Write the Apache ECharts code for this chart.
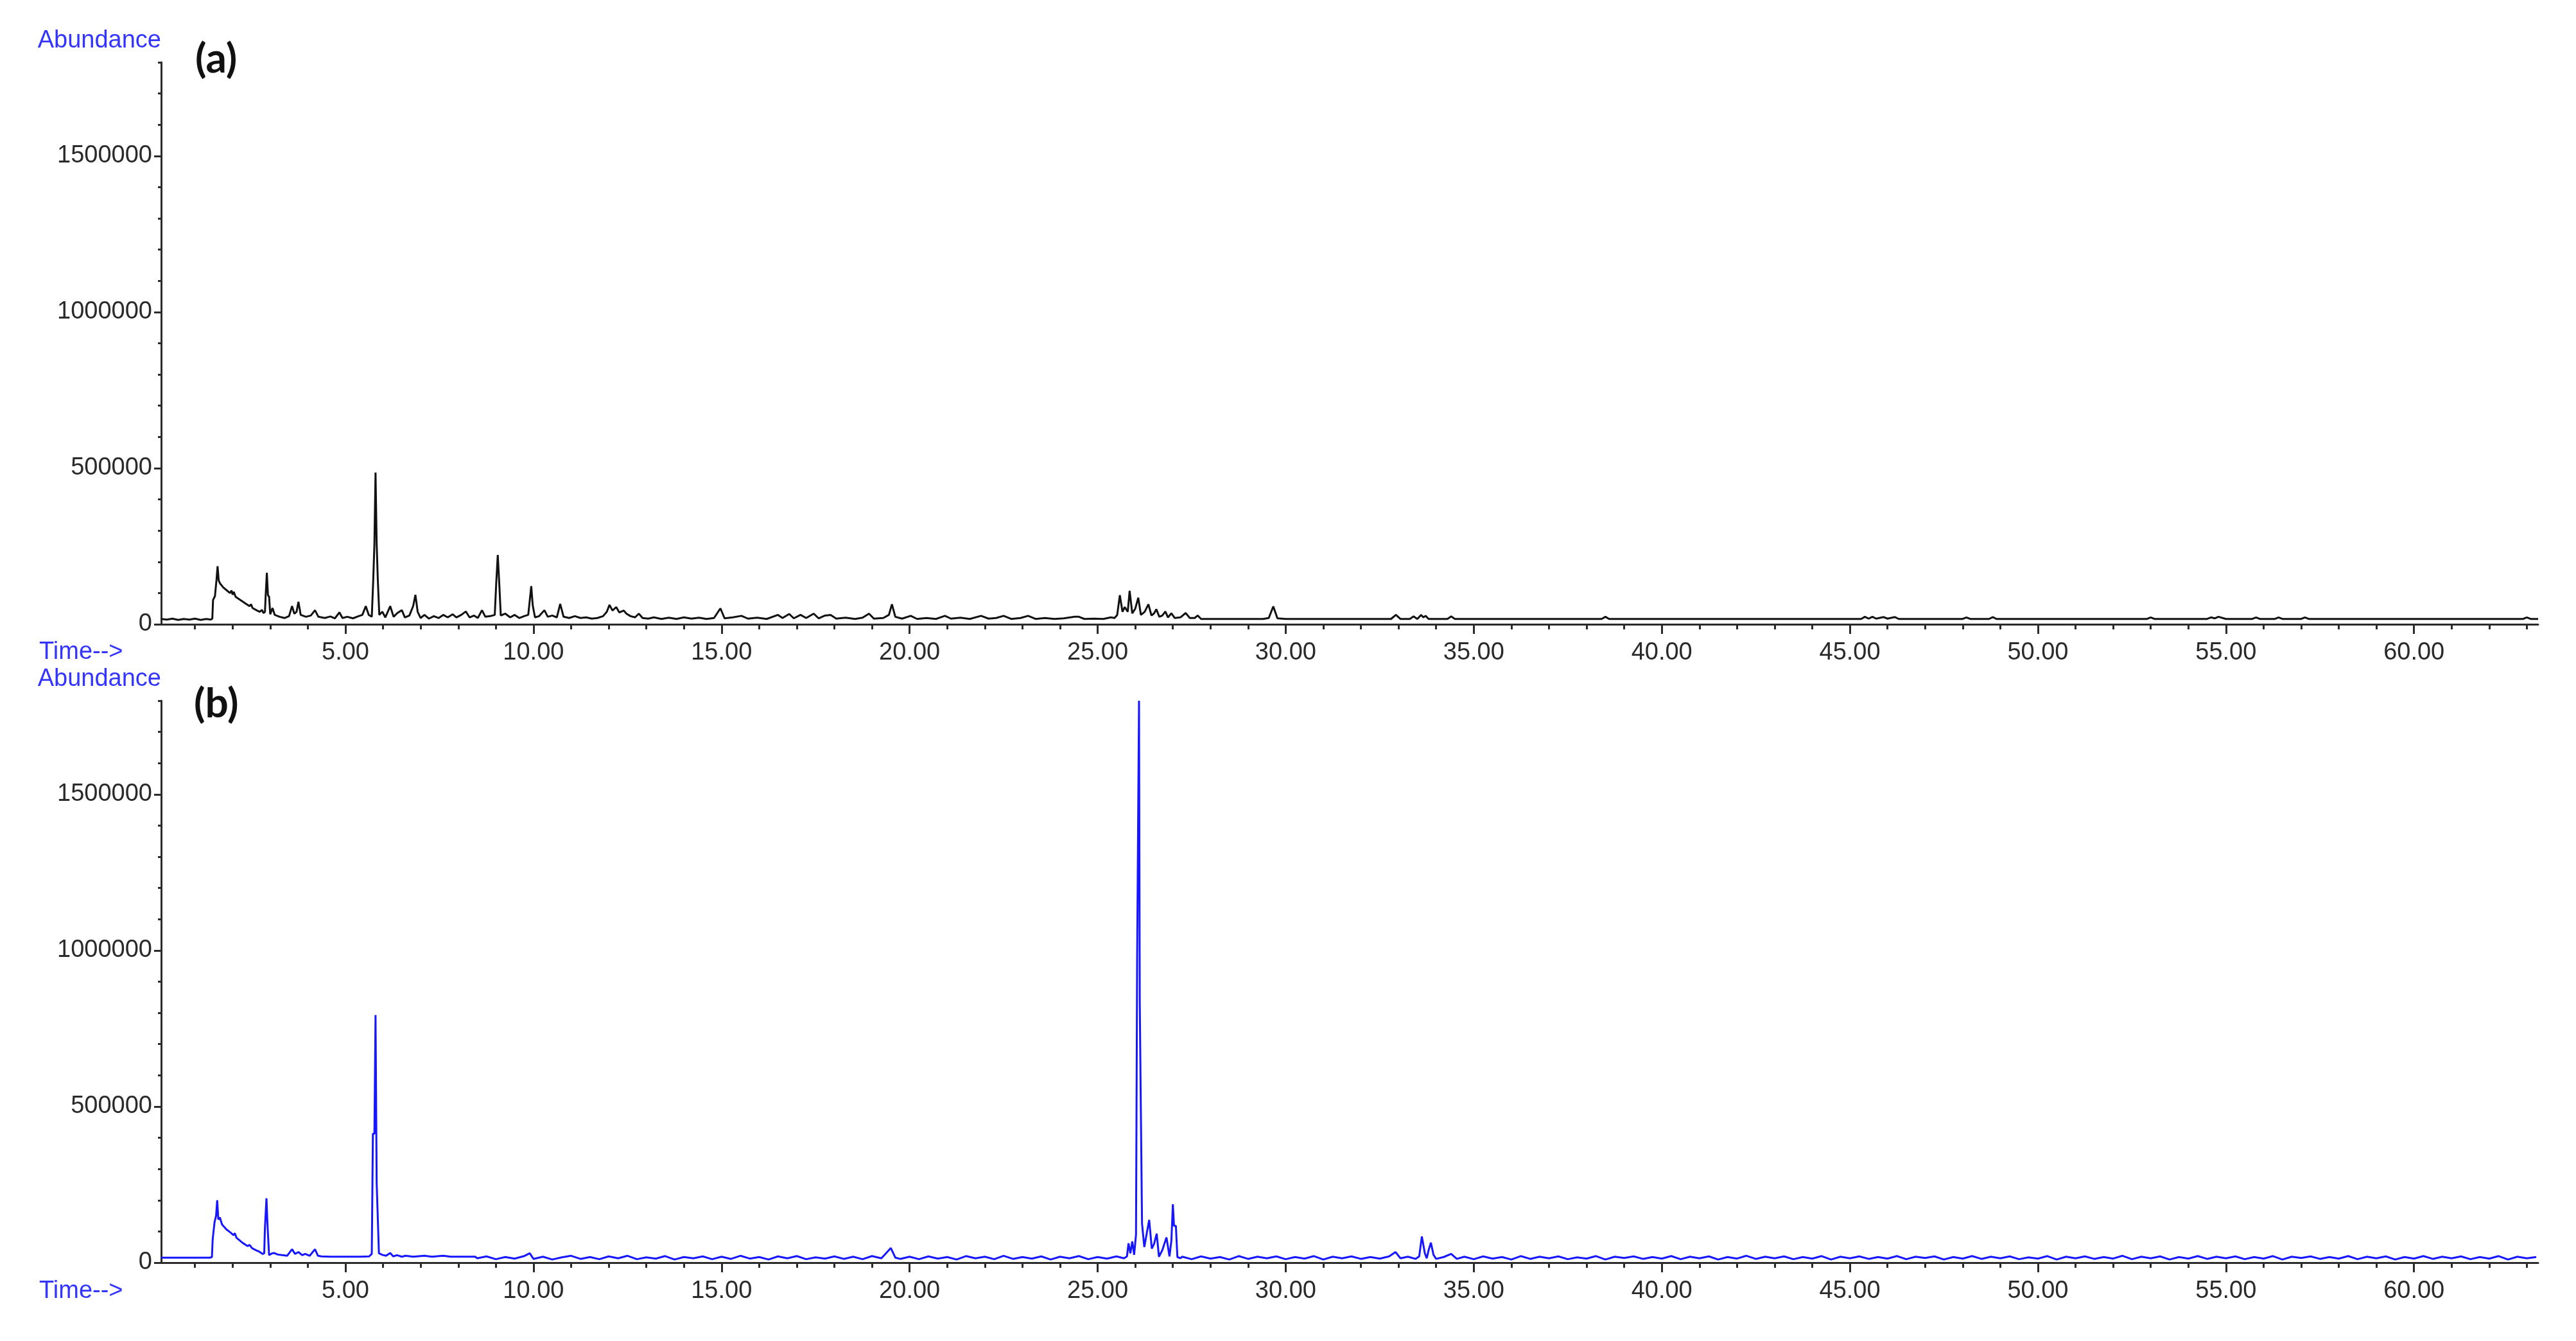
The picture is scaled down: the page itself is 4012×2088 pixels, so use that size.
<!DOCTYPE html>
<html>
<head>
<meta charset="utf-8">
<script src="https://cdn.jsdelivr.net/npm/echarts@6/dist/echarts.min.js"></script>
<style>
  html, body { margin: 0; padding: 0; background: #ffffff; }
  #chart { width: 4012px; height: 2088px; }
</style>
</head>
<body>
<div id="chart"></div>
<script>
// axis ticks / labels
const xLabelValues = [5, 10, 15, 20, 25, 30, 35, 40, 45, 50, 55, 60];
const xMinorTicks = [1, 2, 3, 4, 5, 6, 7, 8, 9, 10, 11, 12, 13, 14, 15, 16, 17, 18, 19, 20, 21, 22, 23, 24, 25, 26, 27, 28, 29, 30, 31, 32, 33, 34, 35, 36, 37, 38, 39, 40, 41, 42, 43, 44, 45, 46, 47, 48, 49, 50, 51, 52, 53, 54, 55, 56, 57, 58, 59, 60, 61, 62, 63];
const yLabelValues = [0, 500000, 1000000, 1500000];
const yMinorTicks = [0, 100000, 200000, 300000, 400000, 500000, 600000, 700000, 800000, 900000, 1000000, 1100000, 1200000, 1300000, 1400000, 1500000, 1600000, 1700000, 1800000];

// (a) black trace, [time min, abundance]
const aEarly = [
  [0.10,17000],[0.25,15000],[0.40,18000],[0.55,14000],[0.70,17000],[0.85,15000],[1.00,18000],[1.15,14000],[1.30,17000],[1.42,15000],
  [1.46,18000],[1.48,78000],[1.53,90000],[1.57,140000],[1.60,186000],[1.63,140000],[1.67,130000],[1.75,118000],[1.85,108000],[1.93,100000],
  [1.97,108000],[2.00,95000],[2.03,104000],[2.08,88000],[2.20,78000],[2.35,66000],[2.45,58000],[2.49,64000],[2.53,52000],[2.65,44000],
  [2.72,40000],[2.78,46000],[2.82,36000],[2.86,40000],[2.88,95000],[2.91,165000],[2.94,93000],[2.97,88000],[3.00,32000],[3.06,52000],
  [3.12,30000],[3.25,24000],[3.38,20000],[3.50,26000],[3.58,58000],[3.64,34000],[3.70,40000],[3.75,72000],[3.81,30000],[3.95,24000],
  [4.08,28000],[4.19,45000],[4.28,24000],[4.45,20000],[4.60,25000],[4.72,19000],[4.84,38000],[4.92,20000],[5.05,24000]
];
const aMid = [
  [5.20,19000],[5.35,26000],[5.45,30000],[5.54,58000],[5.62,30000],[5.70,24000],[5.74,145000],[5.77,258000],[5.80,486000],[5.83,258000],
  [5.86,144000],[5.90,30000],[5.98,40000],[6.06,22000],[6.19,58000],[6.28,24000],[6.38,36000],[6.50,45000],[6.58,22000],[6.70,28000],
  [6.80,58000],[6.86,94000],[6.92,40000],[7.00,20000],[7.10,30000],[7.22,18000],[7.35,26000],[7.48,20000],[7.60,30000],[7.72,22000],
  [7.85,32000],[7.95,22000],[8.08,30000],[8.20,41000],[8.30,22000],[8.42,28000],[8.52,20000],[8.63,45000],[8.72,24000],[8.85,26000],
  [8.97,30000],[9.01,134000],[9.05,222000],[9.09,130000],[9.13,28000],[9.25,34000],[9.38,22000],[9.50,30000],[9.62,20000],[9.75,26000],
  [9.86,30000],[9.90,76000],[9.94,122000],[9.98,60000],[10.04,22000],[10.15,26000],[10.29,45000],[10.38,24000],[10.50,28000],[10.62,22000],
  [10.71,65000],[10.80,24000],[10.95,20000],[11.10,26000],[11.25,20000],[11.40,22000],[11.55,18000],[11.70,20000],[11.85,26000],[11.95,40000],
  [12.02,62000],[12.10,44000],[12.20,55000],[12.28,38000],[12.40,44000],[12.47,34000],[12.58,26000],[12.70,22000],[12.80,34000],[12.90,20000]
];
const aLate = [
  [13.05,18000],[13.20,22000],[13.40,17000],[13.60,21000],[13.80,17000],[14.00,22000],[14.20,18000],[14.40,21000],[14.60,17000],[14.80,20000],
  [14.97,51000],[15.08,19000],[15.30,22000],[15.53,27000],[15.70,18000],[15.95,21000],[16.20,17000],[16.50,30000],[16.62,20000],[16.80,33000],
  [16.92,19000],[17.10,30000],[17.25,20000],[17.45,34000],[17.58,19000],[17.75,28000],[17.90,30000],[18.05,18000],[18.30,21000],[18.55,17000],
  [18.75,21000],[18.92,34000],[19.05,18000],[19.30,20000],[19.45,30000],[19.53,64000],[19.62,24000],[19.80,18000],[20.03,27000],[20.20,17000],
  [20.45,20000],[20.70,17000],[20.94,27000],[21.10,18000],[21.35,21000],[21.60,17000],[21.90,27000],[22.10,18000],[22.30,20000],[22.50,27000],
  [22.70,17000],[22.95,20000],[23.15,27000],[23.35,17000],[23.60,20000],[23.85,17000],[24.10,19000],[24.39,24000],[24.50,24000],[24.65,17000],
  [24.90,18000],[25.15,17000],[25.35,22000]
];
const aCluster = [
  [25.45,20000],[25.52,30000],[25.59,93000],[25.66,40000],[25.72,55000],[25.80,40000],[25.85,107000],[25.92,35000],[26.00,50000],[26.08,85000],
  [26.15,30000],[26.25,40000],[26.35,64000],[26.43,28000],[26.50,35000],[26.56,48000],[26.64,24000],[26.72,28000],[26.80,41000],[26.87,22000],
  [26.96,35000],[27.05,20000],[27.20,22000],[27.34,36000],[27.45,20000],[27.58,20000],[27.66,28000],[27.75,17000]
];
const aTail = [
  [28.20,17000],[28.80,17000],[29.40,17000],[29.55,20000],[29.67,57000],[29.78,19000],[30.00,17000],[31.00,17000],[32.00,17000],[32.80,17000],
  [32.93,30000],[33.05,17000],[33.30,17000],[33.40,25000],[33.50,17000],[33.60,30000],[33.66,22000],[33.72,27000],[33.80,17000],[34.30,17000],
  [34.40,25000],[34.50,17000],[35.50,17000],[37.00,17000],[38.40,17000],[38.50,24000],[38.60,17000],[40.00,17000],[42.00,17000],[44.00,17000],
  [45.30,17000],[45.40,24000],[45.50,18000],[45.60,24000],[45.70,18000],[45.90,23000],[46.00,18000],[46.20,23000],[46.30,17000],[47.50,17000],
  [48.00,17000],[48.10,22000],[48.20,17000],[48.70,17000],[48.80,23000],[48.90,17000],[50.50,17000],[52.90,17000],[53.00,22000],[53.10,17000],
  [54.50,17000],[54.60,22000],[54.70,19000],[54.80,24000],[55.00,17000],[55.70,17000],[55.80,22000],[55.90,17000],[56.30,17000],[56.40,22000],
  [56.50,17000],[57.00,17000],[57.10,22000],[57.20,17000],[60.00,17000],[62.90,17000],[63.00,22000],[63.10,17000],[63.30,17000]
];

// (b) blue trace
const bEarly = [
  [0.10,16000],[0.50,16000],[1.00,16000],[1.40,16000],[1.45,18000],[1.47,75000],[1.52,130000],[1.56,150000],[1.59,200000],[1.62,138000],
  [1.66,145000],[1.72,122000],[1.84,106000],[1.95,96000],[2.02,88000],[2.06,94000],[2.10,80000],[2.27,63000],[2.40,53000],[2.45,57000],
  [2.52,46000],[2.62,40000],[2.71,35000],[2.80,28000],[2.84,30000],[2.86,114000],[2.90,206000],[2.93,114000],[2.97,24000],[3.05,30000],
  [3.10,31000],[3.20,26000],[3.32,24000],[3.45,22000],[3.58,43000],[3.66,28000],[3.75,34000],[3.85,24000],[3.93,28000],[4.05,22000],
  [4.19,43000],[4.27,22000],[4.36,20000],[4.60,19000],[5.00,19000],[5.40,19000],[5.63,20000],[5.70,28000],[5.73,413000],[5.77,413000],
  [5.80,793000],[5.83,256000],[5.86,256000],[5.89,30000],[5.98,25000],[6.08,22000],[6.19,31000],[6.27,20000],[6.37,24000],[6.50,19000],
  [6.60,22000],[6.80,19000],[7.10,22000],[7.30,19000],[7.60,22000],[7.80,19000],[8.20,19000],[8.45,19000]
];
const bNoiseEarly = [
  [8.50,14000],[8.75,20000],[9.00,11000],[9.25,18000],[9.50,13000],[9.75,21000],[9.90,30000],[10.00,12000],[10.25,19000],[10.50,10000],
  [10.75,17000],[11.00,22000],[11.25,12000],[11.50,18000],[11.75,11000],[12.00,20000],[12.25,14000],[12.50,22000],[12.75,11000],[13.00,17000],
  [13.25,13000],[13.50,21000],[13.75,10000],[14.00,18000],[14.25,14000],[14.50,20000],[14.75,11000],[15.00,19000],[15.25,12000],[15.50,22000],
  [15.75,13000],[16.00,18000],[16.25,10000],[16.50,20000],[16.75,14000],[17.00,21000],[17.25,11000],[17.50,17000],[17.75,13000],[18.00,20000],
  [18.25,12000],[18.50,19000],[18.75,11000],[19.00,21000],[19.25,14000],[19.50,47000],[19.62,16000],[19.75,12000],[20.00,19000],[20.25,11000],
  [20.50,20000],[20.75,13000],[21.00,18000],[21.25,10000],[21.50,21000],[21.75,14000],[22.00,19000],[22.25,11000],[22.50,22000],[22.75,12000],
  [23.00,18000],[23.25,13000],[23.50,20000],[23.75,10000],[24.00,19000],[24.25,14000],[24.50,21000],[24.75,11000],[25.00,18000],[25.25,13000],
  [25.50,20000],[25.70,14000]
];
const bCluster = [
  [25.78,20000],[25.82,62000],[25.87,30000],[25.92,68000],[25.97,25000],[26.02,90000],[26.05,977000],[26.08,977000],[26.10,1800000],[26.12,828000],
  [26.15,828000],[26.18,125000],[26.24,50000],[26.30,90000],[26.37,137000],[26.44,45000],[26.50,60000],[26.57,93000],[26.63,19000],[26.72,40000],
  [26.83,81000],[26.91,20000],[26.96,70000],[27.00,187000],[27.03,118000],[27.08,118000],[27.12,18000],[27.20,14000]
];
const bNoiseMid = [
  [27.25,19000],[27.50,11000],[27.75,20000],[28.00,13000],[28.25,18000],[28.50,10000],[28.75,21000],[29.00,12000],[29.25,19000],[29.50,14000],
  [29.75,20000],[30.00,11000],[30.25,18000],[30.50,13000],[30.75,21000],[31.00,10000],[31.25,19000],[31.50,14000],[31.75,20000],[32.00,12000],
  [32.25,18000],[32.50,13000],[32.75,20000],[32.92,34000],[33.05,14000],[33.25,19000],[33.45,12000]
];
const bPeaks34 = [
  [33.55,20000],[33.62,84000],[33.70,30000],[33.75,14000],[33.80,40000],[33.86,64000],[33.93,25000],[34.00,12000],[34.20,18000],[34.40,28000],
  [34.55,12000]
];
const bNoiseLate = [
  [34.75,19000],[35.00,11000],[35.25,20000],[35.50,13000],[35.75,18000],[36.00,10000],[36.25,21000],[36.50,12000],[36.75,19000],[37.00,14000],
  [37.25,20000],[37.50,11000],[37.75,17000],[38.00,13000],[38.25,21000],[38.50,10000],[38.75,19000],[39.00,15000],[39.25,20000],[39.50,12000],
  [39.75,18000],[40.00,13000],[40.25,21000],[40.50,11000],[40.75,19000],[41.00,14000],[41.25,20000],[41.50,10000],[41.75,18000],[42.00,13000],
  [42.25,22000],[42.50,12000],[42.75,19000],[43.00,14000],[43.25,20000],[43.50,11000],[43.75,18000],[44.00,13000],[44.25,21000],[44.50,10000],
  [44.75,19000],[45.00,14000],[45.25,20000],[45.50,12000],[45.75,18000],[46.00,13000],[46.25,21000],[46.50,11000],[46.75,19000],[47.00,15000],
  [47.25,20000],[47.50,10000],[47.75,18000],[48.00,13000],[48.25,21000],[48.50,12000],[48.75,19000],[49.00,14000],[49.25,20000],[49.50,11000],
  [49.75,17000],[50.00,13000],[50.25,21000],[50.50,10000],[50.75,19000],[51.00,14000],[51.25,20000],[51.50,12000],[51.75,18000],[52.00,13000],
  [52.25,22000],[52.50,11000],[52.75,19000],[53.00,14000],[53.25,20000],[53.50,10000],[53.75,18000],[54.00,13000],[54.25,21000],[54.50,12000],
  [54.75,19000],[55.00,14000],[55.25,20000],[55.50,11000],[55.75,18000],[56.00,13000],[56.25,21000],[56.50,10000],[56.75,19000],[57.00,15000],
  [57.25,20000],[57.50,12000],[57.75,18000],[58.00,13000],[58.25,21000],[58.50,11000],[58.75,19000],[59.00,14000],[59.25,20000],[59.50,10000],
  [59.75,18000],[60.00,13000],[60.25,21000],[60.50,12000],[60.75,19000],[61.00,14000],[61.25,20000],[61.50,11000],[61.75,18000],[62.00,13000],
  [62.25,21000],[62.50,10000],[62.75,19000],[63.00,14000],[63.25,18000]
];

const traceA = [].concat(aEarly, aMid, aLate, aCluster, aTail);
const traceB = [].concat(bEarly, bNoiseEarly, bCluster, bNoiseMid, bPeaks34, bNoiseLate);

const FONT = "Liberation Sans";
const AXIS_COLOR = "#2b2b2b";
const TEXT_BLUE = "#3434ff";

function xAxes(gridIndex) {
  return [
    {
      gridIndex: gridIndex,
      type: "value",
      position: "bottom",
      min: 0.1,
      max: 63.3,
      axisLine: { onZero: false, lineStyle: { color: AXIS_COLOR, width: 3 } },
      axisTick: { customValues: xLabelValues, length: 15, lineStyle: { color: AXIS_COLOR, width: 3 } },
      axisLabel: {
        customValues: xLabelValues,
        formatter: (v) => v.toFixed(2),
        color: "#2a2a2a",
        fontFamily: FONT,
        fontSize: 38,
        margin: 26,
      },
      splitLine: { show: false },
    },
    {
      gridIndex: gridIndex,
      type: "value",
      position: "bottom",
      min: 0.1,
      max: 63.3,
      axisLine: { show: false, onZero: false },
      axisTick: { customValues: xMinorTicks, length: 8, lineStyle: { color: AXIS_COLOR, width: 3 } },
      axisLabel: { show: false },
      splitLine: { show: false },
    },
  ];
}

function yAxes(gridIndex) {
  return [
    {
      gridIndex: gridIndex,
      type: "value",
      position: "left",
      min: 0,
      max: 1800000,
      axisLine: { show: true, onZero: false, lineStyle: { color: AXIS_COLOR, width: 3 } },
      axisTick: { show: true, customValues: yLabelValues, length: 11, lineStyle: { color: AXIS_COLOR, width: 3 } },
      axisLabel: {
        customValues: yLabelValues,
        formatter: (v) => String(v),
        color: "#2a2a2a",
        fontFamily: FONT,
        fontSize: 38,
        margin: 14,
      },
      splitLine: { show: false },
    },
    {
      gridIndex: gridIndex,
      type: "value",
      position: "left",
      min: 0,
      max: 1800000,
      axisLine: { show: false, onZero: false },
      axisTick: { show: true, customValues: yMinorTicks, length: 5, lineStyle: { color: AXIS_COLOR, width: 3 } },
      axisLabel: { show: false },
      splitLine: { show: false },
    },
  ];
}

function label(text, x, y, align, font, color) {
  return {
    type: "text",
    x: x,
    y: y,
    style: { text: text, fill: color, font: font, textAlign: align, textVerticalAlign: "middle" },
  };
}

const chart = echarts.init(document.getElementById("chart"));
const option = {
  animation: false,
  backgroundColor: "#ffffff",
  grid: [
    { left: 251, right: 59, top: 97, height: 875 },
    { left: 251, right: 59, top: 1091, height: 875 },
  ],
  xAxis: [].concat(xAxes(0), xAxes(1)),
  yAxis: [].concat(yAxes(0), yAxes(1)),
  series: [
    {
      name: "(a)",
      type: "line",
      xAxisIndex: 0,
      yAxisIndex: 0,
      data: traceA,
      showSymbol: false,
      lineStyle: { color: "#111111", width: 3 },
    },
    {
      name: "(b)",
      type: "line",
      xAxisIndex: 2,
      yAxisIndex: 2,
      data: traceB,
      showSymbol: false,
      lineStyle: { color: "#1616ff", width: 3 },
    },
  ],
  graphic: [
    label("Abundance", 251, 64, "right", "38px '" + FONT + "'", TEXT_BLUE),
    label("Time-->", 61, 1016, "left", "38px '" + FONT + "'", TEXT_BLUE),
    label("Abundance", 251, 1058, "right", "38px '" + FONT + "'", TEXT_BLUE),
    label("Time-->", 61, 2011, "left", "38px '" + FONT + "'", TEXT_BLUE),
    label("(a)", 304, 92, "left", "bold 64px Lato", "#111111"),
    label("(b)", 302, 1096, "left", "bold 64px Lato", "#111111"),
  ],
};
chart.setOption(option);
</script>
</body>
</html>
